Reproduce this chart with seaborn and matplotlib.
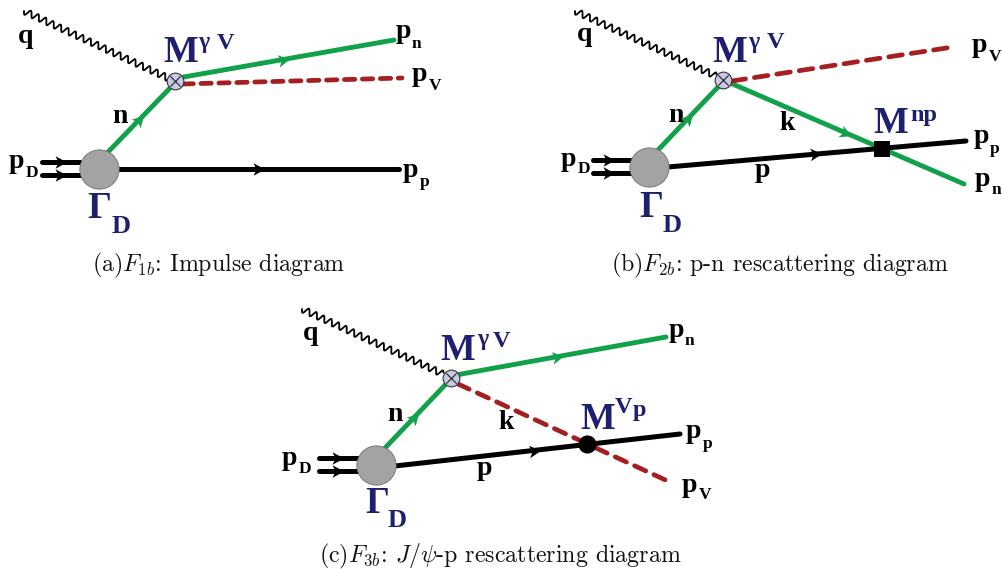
import numpy as np
import matplotlib
matplotlib.use("Agg")
import matplotlib.pyplot as plt
from matplotlib.markers import MarkerStyle
from matplotlib.path import Path
from matplotlib.transforms import Affine2D
import seaborn as sns

# ── Colours ───────────────────────────────────────────────────────
GREEN = "#12a14b"
RED = "#a51e22"
BLACK = "#000000"
NAVY = "#1f1f70"
BLOB = "#a3a3a3"
VERTEX = "#c9c9e8"

# ── Lines, all in picture pixels: (x0, y0, x1, y1) ────────────────
PHOTONS = [(24, 11, 170, 79), (575, 11, 716, 76), (302, 309, 443, 374)]
GREEN_LINES = [
    (108, 152, 172, 86), (178, 78, 394, 40),
    (658, 150, 719, 86), (728, 82, 964, 184),
    (385, 448, 447, 383), (456, 375, 666, 337),
]
RED_DASHED = [
    (183, 84, 402, 78), (732, 81, 953, 47),
    (458, 384, 579, 440), (596, 448, 672, 483),
]
RED_DASHES = [(2.2, 1.6), (2.9, 1.9), (2.6, 1.9), (2.6, 1.9)]
BLACK_LINES = [
    (118, 169, 399, 169), (42, 162, 80, 162), (42, 175, 80, 175),
    (668, 167, 966, 141), (593, 160, 632, 160), (593, 173, 632, 173),
    (395, 466, 680, 434), (319, 458, 358, 458), (319, 471, 358, 471),
]

# arrow heads: x, y, direction (degrees, picture y pointing down)
ARROW_X = [139, 283, 258, 60, 60, 688, 845, 815, 608, 608, 414, 557, 534, 337, 337]
ARROW_Y = [120, 59.5, 169, 162, 175, 119, 132.6, 154, 160, 173, 417.6, 356.7, 450.5, 458, 471]
ARROW_DIR = [-46, -10, 0, 0, 0, -46, 23, -5, 0, 0, -46, -10, -6, 0, 0]
ARROW_COL = [GREEN, GREEN, BLACK, BLACK, BLACK, GREEN, GREEN, BLACK, BLACK, BLACK,
             GREEN, GREEN, BLACK, BLACK, BLACK]

BLOB_X = [99, 649, 376]
BLOB_Y = [169, 167, 465]
VERTEX_X = [175, 723, 451]
VERTEX_Y = [81, 80, 378]
SQUARE_X, SQUARE_Y = [882], [149]
DOT_X, DOT_Y = [587], [444]

# ── Labels: text, x, baseline y ───────────────────────────────────
BIG_BLACK = [
    ("q", 18, 43), ("p", 396, 38), ("p", 412, 81), ("p", 403, 177), ("p", 9, 168),
    ("n", 112, 123),
    ("q", 577, 41), ("p", 972, 52), ("p", 974, 143), ("p", 975, 186), ("p", 561, 166),
    ("n", 668, 122), ("k", 779, 130), ("p", 755, 177),
    ("q", 303, 340), ("p", 669, 337), ("p", 686, 438), ("p", 682, 492), ("p", 282, 465),
    ("n", 387, 421), ("k", 498, 429), ("p", 477, 475),
]
SUB_BLACK = [
    ("n", 412, 48), ("V", 428.5, 90), ("p", 419.5, 186), ("D", 25.5, 177),
    ("V", 988.5, 61), ("p", 990, 153), ("n", 991.5, 194), ("D", 577.5, 173),
    ("n", 685, 345), ("p", 702.5, 448), ("V", 698.5, 499), ("D", 298.5, 473),
]
M_LABELS = [("M", 163, 62), ("M", 712, 62), ("M", 440, 360), ("M", 873, 133), ("M", 580, 429)]
SUP_NAVY = [
    ("V", 217, 49), ("V", 767, 48), ("V", 493, 347),
    ("np", 910, 121), ("V", 615, 413), ("p", 633, 416),
]
GAMMA_SUP = [("γ", 198, 48), ("γ", 748, 48), ("γ", 477, 345)]
GAMMA_LABELS = [("Γ", 87, 218), ("Γ", 639, 217), ("Γ", 365, 513)]
GAMMA_SUB = [("D", 112, 233), ("D", 663, 232), ("D", 388, 527)]

CAPTIONS = [
    ("(a)$F_{1b}$: Impulse diagram", 219, 271),
    ("(b)$F_{2b}$: p-n rescattering diagram", 780, 271),
    ("(c)$F_{3b}$: $J/\\psi$-p rescattering diagram", 500, 562),
]

sns.set_theme(style="white")
plt.rcParams["font.family"] = ["Liberation Serif", "DejaVu Serif"]
plt.rcParams["mathtext.fontset"] = "cm"
plt.rcParams["axes.formatter.use_mathtext"] = True


def draw_segment(ax, seg, color, lw, **kws):
    x0, y0, x1, y1 = seg
    sns.lineplot(x=[x0, x1], y=[y0, y1], color=color, linewidth=lw, sort=False,
                 estimator=None, ax=ax, **kws)


def draw_photon(ax, seg, period=8.2, amp=3.2):
    # wavy line: straight run between the end points plus a sine wiggle
    x0, y0, x1, y1 = seg
    dx, dy = x1 - x0, y1 - y0
    length = np.hypot(dx, dy)
    s = np.linspace(0, length, 500)
    off = amp * np.sin(2 * np.pi * s / period)
    x = x0 + dx * s / length - dy / length * off
    y = y0 + dy * s / length + dx / length * off
    sns.lineplot(x=x, y=y, color=BLACK, linewidth=1.3, sort=False, estimator=None, ax=ax)


def arrow_marker(angle):
    head = Path([(1.0, 0), (-0.75, 0.95), (-0.3, 0), (-0.75, -0.95), (1.0, 0)])
    # picture y is flipped, markers are drawn in display space
    return MarkerStyle(head, transform=Affine2D().rotate_deg(-angle))


def put_labels(ax, labels, size, color, weight="bold"):
    for text, x, y in labels:
        ax.text(x, y, text, fontsize=size, color=color, fontweight=weight,
                ha="left", va="baseline")


def main():
    fig = plt.figure(figsize=(10.03, 5.69), dpi=100)
    ax = fig.add_axes([0, 0, 1, 1])

    for seg in PHOTONS:
        draw_photon(ax, seg)
    for seg in GREEN_LINES:
        draw_segment(ax, seg, GREEN, 3.5)
    for seg, dashes in zip(RED_DASHED, RED_DASHES):
        draw_segment(ax, seg, RED, 3.4, linestyle=(0, dashes), dash_capstyle="round")
    for seg in BLACK_LINES:
        draw_segment(ax, seg, BLACK, 3.6)

    for x, y, angle, col in zip(ARROW_X, ARROW_Y, ARROW_DIR, ARROW_COL):
        sns.scatterplot(x=[x], y=[y], marker=arrow_marker(angle), s=90, color=col,
                        linewidth=0, zorder=4, ax=ax)

    sns.scatterplot(x=BLOB_X, y=BLOB_Y, s=800, color=BLOB, edgecolor="#6e6e6e",
                    linewidth=0.6, zorder=5, ax=ax)
    sns.scatterplot(x=VERTEX_X, y=VERTEX_Y, s=145, color=VERTEX, edgecolor="#333333",
                    linewidth=0.8, zorder=5, ax=ax)
    sns.scatterplot(x=VERTEX_X, y=VERTEX_Y, s=55, marker="x", color="#222222",
                    linewidth=0.8, zorder=6, ax=ax)
    sns.scatterplot(x=SQUARE_X, y=SQUARE_Y, s=130, marker="s", color=BLACK,
                    linewidth=0, zorder=5, ax=ax)
    sns.scatterplot(x=DOT_X, y=DOT_Y, s=170, color=BLACK, linewidth=0, zorder=5, ax=ax)

    put_labels(ax, BIG_BLACK, 20, BLACK)
    put_labels(ax, SUB_BLACK, 12.5, BLACK)
    put_labels(ax, M_LABELS, 26.5, NAVY)
    put_labels(ax, SUP_NAVY, 17.5, NAVY)
    put_labels(ax, GAMMA_SUP, 17, NAVY)
    put_labels(ax, GAMMA_LABELS, 27, NAVY)
    put_labels(ax, GAMMA_SUB, 19, NAVY)

    for text, x, y in CAPTIONS:
        ax.text(x, y, text, fontsize=17.2, color="#111111", family="cmr10",
                ha="center", va="baseline")

    ax.set_xlim(0, 1003)
    ax.set_ylim(569, 0)
    ax.set_axis_off()
    fig.savefig("out.png", dpi=100)
    plt.close(fig)


if __name__ == "__main__":
    main()
